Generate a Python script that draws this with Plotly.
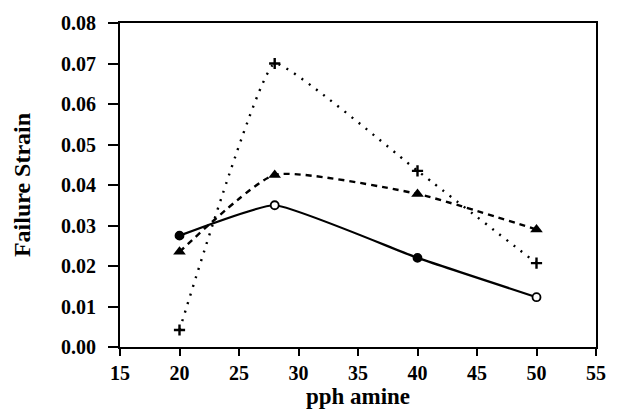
import plotly.graph_objects as go

x_vals = [20, 28, 40, 50]
circle_series = [0.0275, 0.035, 0.022, 0.0123]
triangle_series = [0.0235, 0.0425, 0.0378, 0.029]
plus_series = [0.0042, 0.0700, 0.0435, 0.0207]

x_ticks = [15, 20, 25, 30, 35, 40, 45, 50, 55]
y_ticks = [0.00, 0.01, 0.02, 0.03, 0.04, 0.05, 0.06, 0.07, 0.08]

fig = go.Figure()
fig.add_trace(go.Scatter(
    x=x_vals, y=plus_series, mode="lines+markers",
    line=dict(color="black", width=2.4, dash="2px,7px", shape="spline", smoothing=0.3),
    marker=dict(symbol="cross-thin", size=8, line=dict(color="black", width=2.4)),
    showlegend=False))
fig.add_trace(go.Scatter(
    x=x_vals, y=triangle_series, mode="lines+markers",
    line=dict(color="black", width=2.4, dash="6px,5px", shape="spline", smoothing=0.5),
    marker=dict(symbol="triangle-up", size=11, color="black"),
    showlegend=False))
fig.add_trace(go.Scatter(
    x=x_vals, y=circle_series, mode="lines+markers",
    line=dict(color="black", width=2.2, shape="spline", smoothing=0.4),
    marker=dict(symbol="circle", size=8, color=["black", "white", "black", "white"],
                line=dict(color="black", width=1.8)),
    showlegend=False))

tick_font = dict(family="Liberation Serif", size=20, color="black")
fig.update_layout(
    width=618, height=419,
    margin=dict(l=120, r=17, t=14, b=72),
    paper_bgcolor="white", plot_bgcolor="white",
    font=dict(family="Liberation Serif", size=20, color="black"),
    xaxis=dict(range=[15, 55], tickvals=x_ticks, ticktext=["<b>%d</b>" % v for v in x_ticks],
               showgrid=False, zeroline=False, showline=True, linecolor="black", linewidth=2,
               mirror=True, ticks="outside", ticklen=7, tickwidth=2, tickcolor="black",
               tickfont=tick_font,
               title=dict(text="<b>pph amine</b>", font=dict(family="Liberation Serif", size=23), standoff=4)),
    yaxis=dict(range=[0, 0.08], tickvals=y_ticks, ticktext=["<b>%.2f</b>" % v for v in y_ticks],
               showgrid=False, zeroline=False, showline=True, linecolor="black", linewidth=2,
               mirror=True, ticks="outside", ticklen=10, tickwidth=2, tickcolor="black",
               ticklabelstandoff=8,
               tickfont=tick_font,
               title=dict(text="<b>Failure Strain</b>", font=dict(family="Liberation Serif", size=24), standoff=24)),
)
fig.write_html("out.html")
